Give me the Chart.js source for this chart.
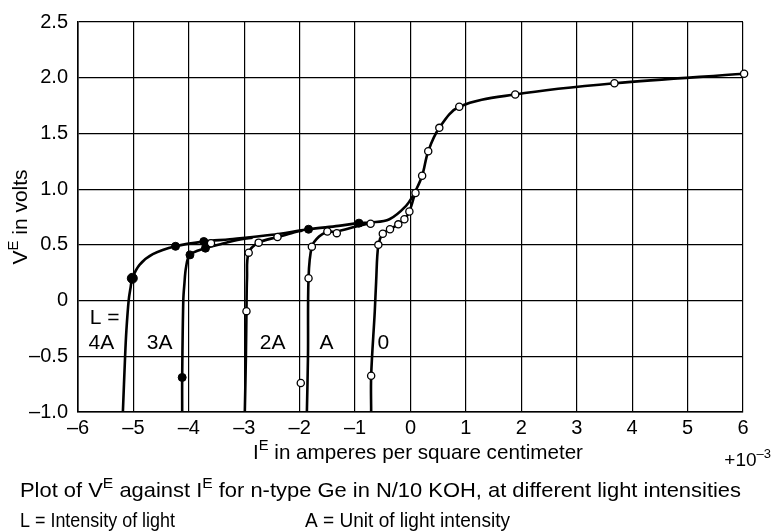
<!DOCTYPE html>
<html>
<head>
<meta charset="utf-8">
<script src="https://cdn.jsdelivr.net/npm/chart.js@4/dist/chart.umd.min.js"></script>
<style>
  html, body { margin: 0; padding: 0; background: #fff; }
  #wrap { width: 774px; height: 532px; }
</style>
</head>
<body>
<div id="wrap"><canvas id="c" width="774" height="532"></canvas></div>
<script>
// ---------- data ----------
const xTickValues = [-6, -5, -4, -3, -2, -1, 0, 1, 2, 3, 4, 5, 6];
const xTickLabels = ['–6', '–5', '–4', '–3', '–2', '–1', '0', '1', '2', '3', '4', '5', '6'];
const yTickValues = [-1, -0.5, 0, 0.5, 1, 1.5, 2, 2.5];
const yTickLabels = ['–1.0', '–0.5', '0', '0.5', '1.0', '1.5', '2.0', '2.5'];

// common upper branch (I > 0)
const curveUpper = [[0.07, 0.96], [0.21, 1.12], [0.32, 1.34], [0.52, 1.55], [0.88, 1.74], [1.89, 1.85], [3.68, 1.95], [6.02, 2.035]];
// L = 4A (main curve)
const curve4A = [[-5.19, -1.0], [-5.15, -0.5], [-5.127, -0.27], [-5.086, 0.0], [-5.05, 0.12], [-5.02, 0.20], [-4.89, 0.32], [-4.65, 0.416], [-4.24, 0.487], [-3.73, 0.53], [-3.26, 0.55], [-2.5, 0.59], [-1.84, 0.64], [-1.3, 0.67], [-0.93, 0.695], [-0.72, 0.70], [-0.38, 0.73], [-0.08, 0.85], [0.07, 0.96]];
// L = 3A
const curve3A = [[-4.12, -1.0], [-4.12, -0.69], [-4.10, 0.0], [-4.08, 0.15], [-4.05, 0.30], [-3.98, 0.41], [-3.70, 0.47], [-3.40, 0.51], [-3.05, 0.55], [-2.85, 0.565]];
// L = 2A
const curve2A = [[-2.99, -1.0], [-2.97, -0.5], [-2.96, -0.095], [-2.95, 0.2], [-2.92, 0.43], [-2.74, 0.52], [-2.40, 0.57], [-2.15, 0.605], [-1.95, 0.63]];
// L = A
const curve1A = [[-1.87, -1.0], [-1.85, -0.5], [-1.84, 0.2], [-1.78, 0.484], [-1.65, 0.575], [-1.50, 0.615], [-1.33, 0.62], [-0.98, 0.665], [-0.72, 0.695]];
// L = 0
const curve0 = [[-0.71, -1.0], [-0.71, -0.675], [-0.645, -0.1], [-0.62, 0.17], [-0.58, 0.5], [-0.50, 0.6], [-0.37, 0.64], [-0.22, 0.684], [-0.11, 0.73], [-0.02, 0.80], [0.08, 0.96]];

// measured points
const filledPoints = [[-4.24, 0.487], [-3.73, 0.53], [-3.70, 0.47], [-3.98, 0.41], [-4.12, -0.69], [-1.84, 0.64], [-0.93, 0.695]];
const filledBig = [[-5.02, 0.20]];
const openPoints = [[-3.60, 0.515], [-2.96, -0.095], [-2.92, 0.43], [-2.74, 0.52], [-2.40, 0.57],
  [-1.98, -0.74], [-1.84, 0.2], [-1.78, 0.484], [-1.50, 0.62], [-1.33, 0.605], [-0.72, 0.69],
  [-0.71, -0.675], [-0.58, 0.5], [-0.50, 0.6], [-0.37, 0.64], [-0.22, 0.684], [-0.11, 0.73], [-0.02, 0.80], [0.09, 0.965],
  [0.21, 1.12], [0.32, 1.34], [0.52, 1.55], [0.88, 1.74], [1.89, 1.85], [3.68, 1.95], [6.02, 2.035]];

// curve labels
const curveLabels = [
  { x: -5.79, y: -0.212, t: 'L =' },
  { x: -5.81, y: -0.434, t: '4A' },
  { x: -4.76, y: -0.434, t: '3A' },
  { x: -2.72, y: -0.434, t: '2A' },
  { x: -1.64, y: -0.434, t: 'A' },
  { x: -0.595, y: -0.434, t: '0' }
];

const toXY = arr => arr.map(p => ({ x: p[0], y: p[1] }));

function lineDs(arr) {
  return { data: toXY(arr), showLine: true, borderColor: '#000', borderWidth: 2.6, pointRadius: 0,
    tension: 0.35, fill: false, order: 2, clip: false };
}

const FONT = '"Liberation Sans", Arial, Helvetica, sans-serif';

// draw text runs (with superscripts); optional fit to a target width
function drawRich(ctx, parts, x, y, size, align, fitWidth) {
  const supSize = Math.round(size * 0.7);
  let total = 0;
  const widths = parts.map(p => {
    ctx.font = (p[1] ? supSize : size) + 'px ' + FONT;
    const w = ctx.measureText(p[0]).width;
    total += w;
    return w;
  });
  const sx = fitWidth ? fitWidth / total : 1;
  const shown = total * sx;
  const x0 = align === 'center' ? x - shown / 2 : (align === 'right' ? x - shown : x);
  ctx.save();
  ctx.translate(x0, y);
  ctx.scale(sx, 1);
  let cx = 0;
  parts.forEach((p, i) => {
    ctx.font = (p[1] ? supSize : size) + 'px ' + FONT;
    ctx.fillText(p[0], cx, p[1] ? -size * 0.42 : 0);
    cx += widths[i];
  });
  ctx.restore();
}

const textPlugin = {
  id: 'texts',
  afterDraw(chart) {
    const ctx = chart.ctx;
    const xs = chart.scales.x, ys = chart.scales.y;
    ctx.save();
    ctx.fillStyle = '#000';
    ctx.textBaseline = 'alphabetic';
    ctx.textAlign = 'left';
    // curve labels
    curveLabels.forEach(l => {
      drawRich(ctx, [[l.t, false]], xs.getPixelForValue(l.x), ys.getPixelForValue(l.y), 21, 'left');
    });
    // y title
    ctx.save();
    ctx.translate(27, (chart.chartArea.top + chart.chartArea.bottom) / 2);
    ctx.rotate(-Math.PI / 2);
    drawRich(ctx, [['V', false], ['E', true], [' in volts', false]], 0, 0, 21, 'center');
    ctx.restore();
    // x title
    drawRich(ctx, [['I', false], ['E', true], [' in amperes per square centimeter', false]], 418, 459, 21, 'center', 330);
    drawRich(ctx, [['+10', false], ['–3', true]], 771, 466, 19, 'right');
    // caption
    drawRich(ctx, [['Plot of V', false], ['E', true], [' against I', false], ['E', true], [' for n-type Ge in N/10 KOH, at different light intensities', false]], 20, 497, 21, 'left', 721);
    drawRich(ctx, [['L = Intensity of light', false]], 20, 527, 21, 'left', 155);
    drawRich(ctx, [['A = Unit of light intensity', false]], 305, 527, 21, 'left', 205);
    ctx.restore();
  }
};

new Chart(document.getElementById('c'), {
  type: 'scatter',
  data: {
    datasets: [
      lineDs(curveUpper), lineDs(curve4A), lineDs(curve3A), lineDs(curve2A), lineDs(curve1A), lineDs(curve0),
      { data: toXY(filledPoints), pointRadius: 4, backgroundColor: '#000', borderColor: '#000', borderWidth: 1, showLine: false, order: 0, clip: false },
      { data: toXY(filledBig), pointRadius: 5, backgroundColor: '#000', borderColor: '#000', borderWidth: 1, showLine: false, order: 0, clip: false },
      { data: toXY(openPoints), pointRadius: 3.6, backgroundColor: '#fff', borderColor: '#000', borderWidth: 1.3, showLine: false, order: 0, clip: false }
    ]
  },
  options: {
    responsive: false,
    animation: false,
    devicePixelRatio: 1,
    layout: { padding: { top: 17, right: 31, left: 0, bottom: 0 } },
    plugins: { legend: { display: false }, tooltip: { enabled: false } },
    events: [],
    scales: {
      x: {
        type: 'linear', min: -6, max: 6,
        afterBuildTicks: s => { s.ticks = xTickValues.map(v => ({ value: v })); },
        ticks: { color: '#000', font: { size: 20, family: FONT }, padding: 4, maxRotation: 0, autoSkip: false,
          callback: v => { const i = xTickValues.indexOf(v); return i >= 0 ? xTickLabels[i] : ''; } },
        grid: { color: '#000', lineWidth: 1.2, drawTicks: false },
        border: { color: '#000', width: 1.6 },
        afterFit: s => { s.height = 120; }
      },
      y: {
        type: 'linear', min: -1, max: 2.5,
        afterBuildTicks: s => { s.ticks = yTickValues.map(v => ({ value: v })); },
        ticks: { color: '#000', font: { size: 20, family: FONT }, padding: 10, autoSkip: false,
          callback: v => { const i = yTickValues.indexOf(v); return i >= 0 ? yTickLabels[i] : ''; } },
        grid: { color: '#000', lineWidth: 1.2, drawTicks: false },
        border: { color: '#000', width: 1.6 },
        afterFit: s => { s.width = 78; }
      }
    }
  },
  plugins: [textPlugin]
});
</script>
</body>
</html>
